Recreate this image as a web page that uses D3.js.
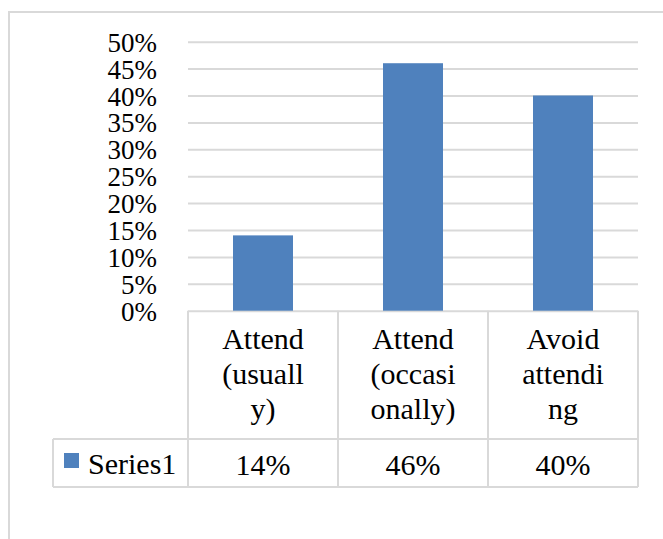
<!DOCTYPE html>
<html>
<head>
<meta charset="utf-8">
<script src="https://cdn.jsdelivr.net/npm/d3@7"></script>
<style>
  body { margin: 0; background: #fff; }
  text { font-family: "Liberation Serif", "Times New Roman", serif; fill: #000; }
</style>
</head>
<body>
<svg id="chart"></svg>
<script>
// data
var categories = ["Attend (usually)", "Attend (occasionally)", "Avoid attending"];
var categoryLines = [
  ["Attend", "(usuall", "y)"],
  ["Attend", "(occasi", "onally)"],
  ["Avoid", "attendi", "ng"]
];
var values = [0.14, 0.46, 0.40];
var valueLabels = ["14%", "46%", "40%"];
var seriesName = "Series1";
var yTicks = [0, 0.05, 0.10, 0.15, 0.20, 0.25, 0.30, 0.35, 0.40, 0.45, 0.50];

var width = 663, height = 539;
var plotLeft = 188, plotRight = 638, plotTop = 41.7, plotBottom = 310.7;
var tableLeft = 53, rowSplit = 439, tableBottom = 487;
var gridColor = "#d9d9d9";
var barColor = "#4f81bd";

var svg = d3.select("#chart")
  .attr("width", width)
  .attr("height", height);

// outer chart border (runs off the right and bottom edges)
svg.append("path")
  .attr("d", "M9," + (height + 5) + "V12H" + (width + 5))
  .attr("fill", "none")
  .attr("stroke", gridColor)
  .attr("stroke-width", 2);

var x = d3.scaleBand()
  .domain(categories)
  .range([plotLeft, plotRight])
  .paddingInner(0.6)
  .paddingOuter(0.3);

var y = d3.scaleLinear()
  .domain([0, 0.5])
  .range([plotBottom, plotTop]);

// gridlines
svg.append("g")
  .attr("transform", "translate(" + plotLeft + ",0)")
  .call(d3.axisLeft(y).tickValues(yTicks).tickSize(-(plotRight - plotLeft)).tickFormat(""))
  .call(function (g) {
    g.select(".domain").remove();
    g.selectAll("line").attr("stroke", gridColor).attr("stroke-width", 2);
  });

// y labels
svg.append("g")
  .attr("transform", "translate(" + plotLeft + ",0)")
  .call(d3.axisLeft(y).tickValues(yTicks).tickSize(0).tickPadding(31).tickFormat(d3.format(".0%")))
  .call(function (g) {
    g.select(".domain").remove();
    g.selectAll("text")
      .attr("font-size", 27)
      .attr("fill", "#000")
      .attr("dy", 9.5);
  });

// bars
svg.selectAll("rect.bar")
  .data(values)
  .enter()
  .append("rect")
  .attr("class", "bar")
  .attr("x", function (d, i) { return x(categories[i]); })
  .attr("y", function (d) { return y(d); })
  .attr("width", x.bandwidth())
  .attr("height", function (d) { return y(0) - y(d); })
  .attr("fill", barColor);

// data table
var step = x.step();
var edges = categories.map(function (c, i) { return plotLeft + i * step; }).concat([plotRight]);

var table = svg.append("g")
  .attr("stroke", gridColor)
  .attr("stroke-width", 2)
  .attr("fill", "none");

edges.forEach(function (ex) {
  table.append("line").attr("x1", ex).attr("x2", ex).attr("y1", plotBottom).attr("y2", tableBottom);
});
table.append("line").attr("x1", tableLeft).attr("x2", tableLeft).attr("y1", rowSplit).attr("y2", tableBottom);
table.append("line").attr("x1", tableLeft).attr("x2", plotRight).attr("y1", rowSplit).attr("y2", rowSplit);
table.append("line").attr("x1", tableLeft).attr("x2", plotRight).attr("y1", tableBottom).attr("y2", tableBottom);

// category labels
var catGroups = svg.selectAll("g.cat")
  .data(categoryLines)
  .enter()
  .append("g")
  .attr("class", "cat")
  .attr("transform", function (d, i) { return "translate(" + (x(categories[i]) + x.bandwidth() / 2) + "," + plotBottom + ")"; });

catGroups.selectAll("text")
  .data(function (d) { return d; })
  .enter()
  .append("text")
  .attr("text-anchor", "middle")
  .attr("font-size", 30)
  .attr("y", function (d, j) { return 38 + j * 35; })
  .text(function (d) { return d; });

// value row
svg.selectAll("text.val")
  .data(valueLabels)
  .enter()
  .append("text")
  .attr("class", "val")
  .attr("text-anchor", "middle")
  .attr("font-size", 30)
  .attr("x", function (d, i) { return x(categories[i]) + x.bandwidth() / 2; })
  .attr("y", 475)
  .text(function (d) { return d; });

// legend key in table
svg.append("rect")
  .attr("x", 64)
  .attr("y", 453)
  .attr("width", 15)
  .attr("height", 15)
  .attr("fill", barColor);

svg.append("text")
  .attr("x", 88)
  .attr("y", 474)
  .attr("font-size", 30)
  .text(seriesName);
</script>
</body>
</html>
